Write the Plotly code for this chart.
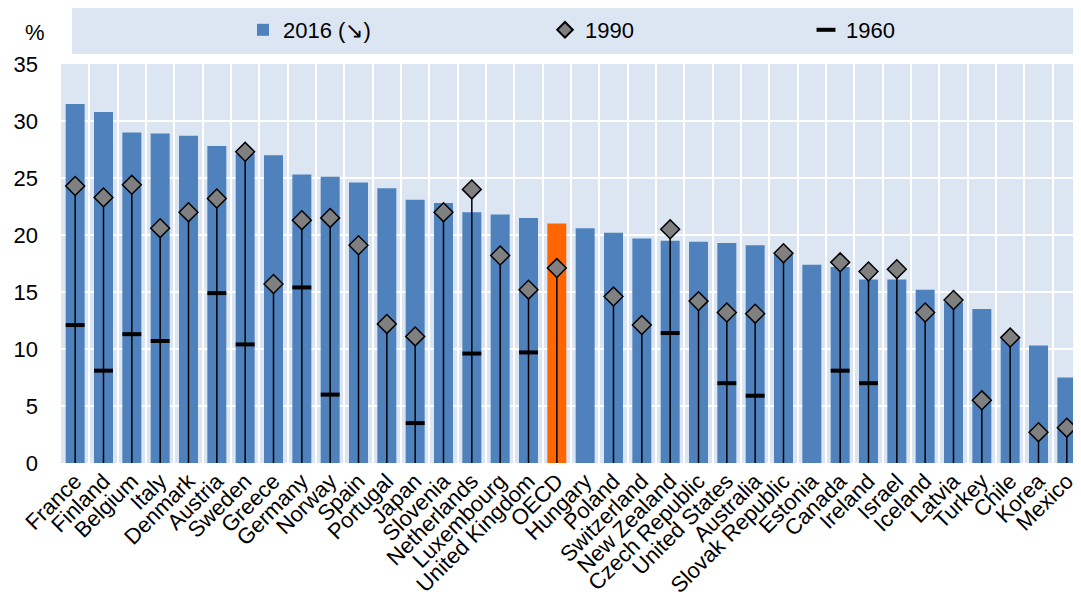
import plotly.graph_objects as go

countries = ["France", "Finland", "Belgium", "Italy", "Denmark", "Austria", "Sweden", "Greece",
             "Germany", "Norway", "Spain", "Portugal", "Japan", "Slovenia", "Netherlands",
             "Luxembourg", "United Kingdom", "OECD", "Hungary", "Poland", "Switzerland",
             "New Zealand", "Czech Republic", "United States", "Australia", "Slovak Republic",
             "Estonia", "Canada", "Ireland", "Israel", "Iceland", "Latvia", "Turkey", "Chile",
             "Korea", "Mexico"]

v2016 = [31.5, 30.8, 29.0, 28.9, 28.7, 27.8, 27.1, 27.0, 25.3, 25.1, 24.6, 24.1, 23.1, 22.8,
         22.0, 21.8, 21.5, 21.0, 20.6, 20.2, 19.7, 19.5, 19.4, 19.3, 19.1, 18.3, 17.4, 17.2,
         16.1, 16.1, 15.2, 14.1, 13.5, 10.9, 10.3, 7.5]

v1990 = [24.3, 23.3, 24.4, 20.6, 22.0, 23.2, 27.3, 15.7, 21.3, 21.5, 19.1, 12.2, 11.1, 22.0,
         24.0, 18.2, 15.2, 17.1, None, 14.6, 12.1, 20.5, 14.2, 13.2, 13.1, 18.4, None, 17.6,
         16.8, 17.0, 13.2, 14.3, 5.5, 11.0, 2.7, 3.1]

v1960 = [12.1, 8.1, 11.3, 10.7, None, 14.9, 10.4, None, 15.4, 6.0, None, None, 3.5, None,
         9.6, None, 9.7, None, None, None, None, 11.4, None, 7.0, 5.9, None, None, 8.1,
         7.0, None, None, None, None, None, None, None]

yticks = [0, 5, 10, 15, 20, 25, 30, 35]

BLUE = "#4f81bd"
ORANGE = "#ff6600"
BG = "#dce6f2"
FONT = "Liberation Sans, Arial, sans-serif"

# page offset of the figure div (default body margin)
OFF = 8
W, H = 1081 - OFF, 607 - OFF
L, R, T = 61 - OFF, 0, 64 - OFF
PH = 399
B = H - T - PH
PW = W - L - R


def px_x(p):  # page x -> paper x
    return (p - OFF - L) / PW


def px_y(p):  # page y -> paper y
    return (T + PH - (p - OFF)) / PH


bar_colors = [ORANGE if c == "OECD" else BLUE for c in countries]

fig = go.Figure()
fig.add_trace(go.Bar(
    x=countries, y=v2016, name="2016 (↘)", legend="legend",
    marker=dict(color=bar_colors, line=dict(width=0)),
))
fig.add_trace(go.Scatter(
    x=countries, y=v1990, name="1990", mode="markers", legend="legend2",
    marker=dict(symbol="diamond", size=14.5, color="#808080",
                line=dict(color="#000000", width=1.5)),
    error_y=dict(type="data", symmetric=False,
                 array=[0 if v is not None else None for v in v1990],
                 arrayminus=v1990, width=0, thickness=1.5, color="#000000"),
))
fig.add_trace(go.Scatter(
    x=countries, y=v1960, name="1960", mode="markers", legend="legend3",
    marker=dict(symbol="line-ew", size=13.5, color="#000000",
                line=dict(color="#000000", width=4)),
))

# legend background band
fig.add_shape(type="rect", xref="paper", yref="paper",
              x0=px_x(72), x1=1.0, y0=px_y(54), y1=px_y(2),
              fillcolor=BG, line=dict(width=0), layer="below")

fig.add_annotation(text="%", xref="paper", yref="paper",
                   x=px_x(35), y=px_y(32), showarrow=False,
                   font=dict(size=22, color="#000000", family=FONT),
                   xanchor="center", yanchor="middle")


def leg(p, sizing="trace"):
    return dict(orientation="h", xref="container", yref="container",
                x=(p - OFF) / W, xanchor="left", y=1 - (30 - OFF) / H, yanchor="middle",
                itemsizing=sizing,
                bgcolor="rgba(0,0,0,0)", font=dict(size=22, family=FONT, color="#000000"))


fig.update_layout(
    width=W, height=H,
    margin=dict(l=L, r=R, t=T, b=B, autoexpand=False),
    paper_bgcolor="#ffffff",
    plot_bgcolor=BG,
    bargap=0.33,
    font=dict(family=FONT, size=22, color="#000000"),
    showlegend=True,
    legend=leg(243),
    legend2=leg(545, "constant"),
    legend3=leg(806),
    xaxis=dict(type="category", range=[-0.5, len(countries) - 0.5],
               tickangle=-45, tickson="boundaries", dtick=1,
               showgrid=True, gridcolor="#ffffff", gridwidth=1.5, automargin=False,
               ticks="", showline=False, zeroline=False,
               tickfont=dict(size=22, family=FONT)),
    yaxis=dict(range=[0, 35], tickvals=yticks, showgrid=True, gridcolor="#ffffff",
               gridwidth=1.5, ticks="", showline=False, zeroline=False, automargin=False,
               ticklabelstandoff=22,
               tickfont=dict(size=22, family=FONT)),
)

fig.write_html("out.html")
